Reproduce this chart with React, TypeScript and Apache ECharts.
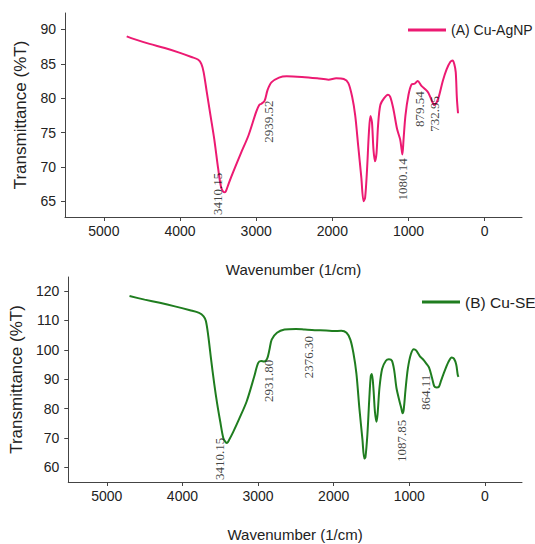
import React, { useEffect, useRef } from "react";
import * as echarts from "echarts";

// (A) Cu-AgNP spectrum
const wnA = [4700, 4600, 4400, 4200, 4000, 3850, 3760, 3720, 3690, 3650, 3600, 3550, 3500, 3460, 3420, 3400, 3360, 3300, 3200, 3100, 3000, 2960, 2930, 2890, 2850, 2800, 2700, 2600, 2400, 2200, 2050, 1950, 1850, 1790, 1740, 1700, 1660, 1620, 1590, 1570, 1545, 1520, 1500, 1480, 1460, 1440, 1420, 1400, 1370, 1320, 1270, 1240, 1200, 1150, 1110, 1090, 1080, 1065, 1040, 1000, 960, 920, 880, 830, 780, 740, 700, 660, 630, 600, 550, 500, 450, 420, 400, 380, 365, 350];
const tA = [89.0, 88.6, 87.9, 87.3, 86.6, 86.0, 85.6, 85.0, 83.8, 81.0, 77.5, 74.0, 69.8, 67.0, 66.3, 66.4, 67.6, 69.3, 72.0, 74.6, 78.0, 79.0, 79.2, 79.6, 81.2, 82.3, 83.0, 83.2, 83.1, 82.9, 82.7, 82.9, 82.8, 82.2, 80.2, 77.5, 73.0, 68.5, 65.0, 65.5, 69.5, 75.0, 77.4, 76.5, 72.5, 70.8, 72.0, 76.0, 79.0, 80.0, 80.5, 80.2, 78.5, 75.5, 74.0, 72.5, 71.8, 74.0, 77.5, 80.5, 82.0, 82.1, 82.5, 81.8, 81.3, 80.8, 79.8, 79.0, 79.4, 80.3, 82.5, 84.2, 85.3, 85.5, 85.0, 83.8, 80.0, 77.8];

// (B) Cu-SE spectrum
const wnB = [4700, 4500, 4300, 4100, 3900, 3780, 3720, 3690, 3660, 3620, 3580, 3540, 3500, 3460, 3430, 3410, 3380, 3330, 3250, 3150, 3050, 3000, 2960, 2920, 2880, 2850, 2820, 2750, 2650, 2500, 2380, 2250, 2100, 2000, 1900, 1830, 1780, 1740, 1700, 1660, 1620, 1595, 1580, 1555, 1530, 1510, 1495, 1475, 1455, 1435, 1420, 1395, 1360, 1310, 1270, 1230, 1200, 1170, 1130, 1105, 1090, 1075, 1050, 1020, 980, 940, 910, 860, 820, 780, 740, 700, 670, 640, 610, 580, 530, 480, 440, 410, 380, 360, 350];
const tB = [118.3, 117.1, 116.0, 114.8, 113.5, 112.6, 111.4, 109.8, 105.0, 96.5, 88.5, 81.5, 75.5, 70.0, 68.6, 68.3, 69.5, 72.0, 76.5, 82.5, 91.0, 95.5, 96.2, 96.0, 97.0, 100.0, 103.5, 105.8, 106.9, 107.1, 106.9, 106.7, 106.6, 106.4, 106.5, 105.8, 103.5, 99.0, 92.0, 80.0, 69.5, 63.0, 63.5, 71.0, 83.0, 91.0, 91.8, 87.0, 79.0, 75.5, 78.0, 87.0, 93.5, 96.3, 96.8, 96.3, 93.0, 87.0, 82.5, 80.0, 78.4, 79.5, 86.5, 93.5, 98.5, 100.2, 99.8, 97.8, 96.8, 95.5, 94.0, 90.5, 87.6, 87.2, 87.4, 89.5, 93.0, 96.0, 97.4, 97.0, 95.0, 91.5, 90.8];

// Peak annotations (text, anchor wavenumber, anchor transmittance)
const annTextA = ["3410.15", "2939.52", "1080.14", "879.54", "732.95"];
const annXA = [3504, 2835, 1076, 853, 665];
const annYA = [63.0, 73.5, 65.1, 75.8, 75.1];

const annTextB = ["3410.15", "2931.80", "2376.30", "1087.85", "864.11"];
const annXB = [3504, 2861, 2336, 1102, 787];
const annYB = [55.7, 82.2, 90.3, 61.8, 79.5];

// Ticks
const xTicks = [0, 1000, 2000, 3000, 4000, 5000];
const yTicksA = [65, 70, 75, 80, 85, 90];
const yTicksB = [60, 70, 80, 90, 100, 110, 120];

const nameA = "(A) Cu-AgNP";
const nameB = "(B) Cu-SE";

const PINK = "#EC1A72";
const GREEN = "#1F7D1F";
const AXIS = "#444";
const TXT = "#222";
const SANS = "'Liberation Sans', Arial, sans-serif";
const SERIF = "'Liberation Serif', 'Times New Roman', serif";

function xAxisCfg(gridIndex: number) {
  return {
    type: "value",
    gridIndex,
    inverse: true,
    min: -490,
    max: 5510,
    name: "Wavenumber (1/cm)",
    nameLocation: "middle",
    nameGap: 45,
    nameTextStyle: { fontFamily: SANS, fontSize: 15, color: TXT },
    axisLine: { show: true, onZero: false, lineStyle: { color: AXIS, width: 1 } },
    axisTick: { show: true, length: 4, customValues: xTicks, lineStyle: { color: AXIS } },
    axisLabel: {
      customValues: xTicks,
      margin: 7,
      fontFamily: SANS,
      fontSize: 14,
      color: TXT,
      formatter: (v: number) => String(v),
    },
    splitLine: { show: false },
  };
}

function yAxisCfg(gridIndex: number, min: number, max: number, ticks: number[]) {
  return {
    type: "value",
    gridIndex,
    min,
    max,
    name: "Transmittance (%T)",
    nameLocation: "middle",
    nameGap: 36,
    nameTextStyle: { fontFamily: SANS, fontSize: 17, color: TXT },
    axisLine: { show: true, onZero: false, lineStyle: { color: AXIS, width: 1 } },
    axisTick: { show: true, length: 4, customValues: ticks, lineStyle: { color: AXIS } },
    axisLabel: {
      customValues: ticks,
      margin: 9,
      fontFamily: SANS,
      fontSize: 14,
      color: TXT,
      formatter: (v: number) => String(v),
    },
    splitLine: { show: false },
  };
}

function annSeries(idx: number, texts: string[], xs: number[], ys: number[]) {
  return {
    type: "scatter",
    xAxisIndex: idx,
    yAxisIndex: idx,
    silent: true,
    symbolSize: 1,
    itemStyle: { color: "transparent" },
    data: xs.map((x, i) => ({ value: [x, ys[i]], name: texts[i] })),
    label: {
      show: true,
      formatter: "{b}",
      position: "inside",
      rotate: 90,
      align: "left",
      verticalAlign: "middle",
      fontFamily: SERIF,
      fontSize: 13,
      color: "#111",
    },
    z: 5,
  };
}

export default function App() {
  const ref = useRef<HTMLDivElement>(null);
  useEffect(() => {
    if (!ref.current) return;
    const chart = echarts.init(ref.current, null, { renderer: "svg" });
    chart.setOption({
      animation: false,
      backgroundColor: "#fff",
      grid: [
        { left: 65, top: 13, width: 457, height: 204 },
        { left: 65, top: 277, width: 457, height: 205 },
      ],
      legend: [
        {
          data: [nameA],
          left: 408,
          top: 23,
          padding: 0,
          icon: "rect",
          itemWidth: 38,
          itemHeight: 3,
          textStyle: { fontFamily: SANS, fontSize: 14, color: TXT },
        },
        {
          data: [nameB],
          left: 422,
          top: 294,
          padding: 0,
          icon: "rect",
          itemWidth: 38,
          itemHeight: 3,
          textStyle: { fontFamily: SANS, fontSize: 15.5, color: TXT },
        },
      ],
      xAxis: [xAxisCfg(0), xAxisCfg(1)],
      yAxis: [yAxisCfg(0, 62.7, 92.4, yTicksA), yAxisCfg(1, 55, 124.8, yTicksB)],
      series: [
        {
          type: "line",
          name: nameA,
          xAxisIndex: 0,
          yAxisIndex: 0,
          symbol: "none",
          smooth: 0.3,
          data: wnA.map((w, i) => [w, tA[i]]),
          lineStyle: { color: PINK, width: 2 },
          itemStyle: { color: PINK },
        },
        {
          type: "line",
          name: nameB,
          xAxisIndex: 1,
          yAxisIndex: 1,
          symbol: "none",
          smooth: 0.3,
          data: wnB.map((w, i) => [w, tB[i]]),
          lineStyle: { color: GREEN, width: 2 },
          itemStyle: { color: GREEN },
        },
        annSeries(0, annTextA, annXA, annYA),
        annSeries(1, annTextB, annXB, annYB),
      ],
    });
    return () => chart.dispose();
  }, []);
  return (
    <div
      ref={ref}
      style={{ position: "absolute", left: 0, top: 0, width: 535, height: 544 }}
    />
  );
}
